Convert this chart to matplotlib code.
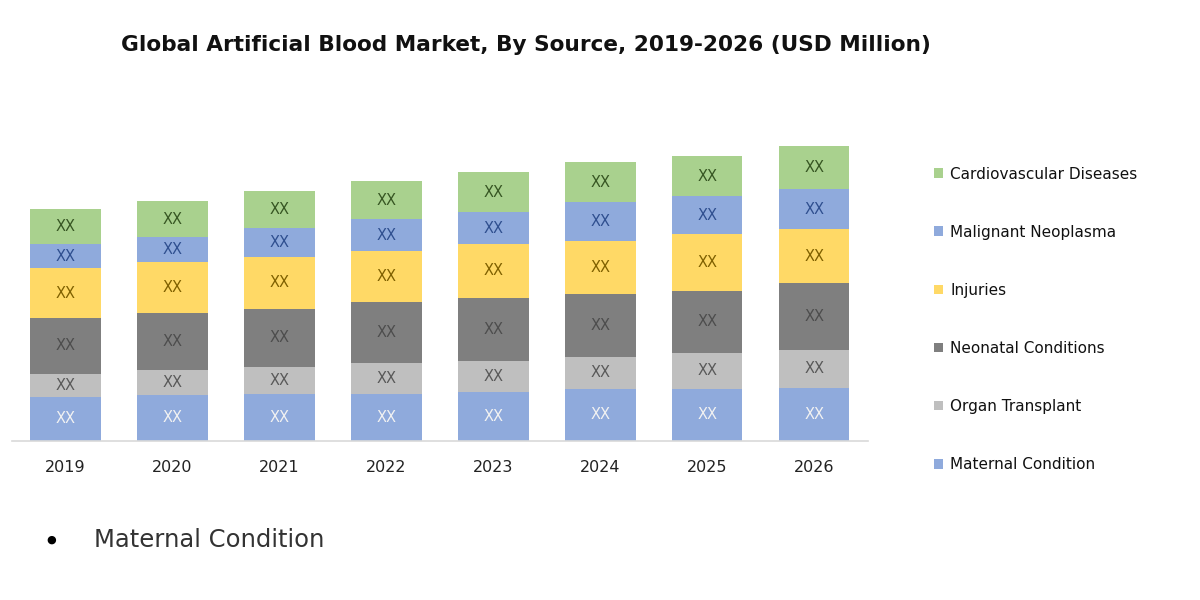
import matplotlib
matplotlib.use("Agg")
import matplotlib.pyplot as plt
import numpy as np

# Data (arbitrary units since labels are "XX")
years = ["2019", "2020", "2021", "2022", "2023", "2024", "2025", "2026"]
maternal = [44, 46, 47, 47, 49, 52, 52, 53]
organ = [23, 25, 27, 31, 31, 32, 36, 38]
neonatal = [56, 57, 58, 61, 63, 63, 62, 66]
injuries = [49, 50, 51, 50, 53, 52, 56, 54]
malignant = [24, 25, 29, 32, 32, 39, 38, 40]
cardio = [35, 36, 37, 38, 40, 40, 40, 43]

series_names = ["Maternal Condition", "Organ Transplant", "Neonatal Conditions",
                "Injuries", "Malignant Neoplasma", "Cardiovascular Diseases"]
series_vals = [maternal, organ, neonatal, injuries, malignant, cardio]
fill_cols = ["#8FAADC", "#BFBFBF", "#7F7F7F", "#FFD966", "#8FAADC", "#A9D18E"]
text_cols = ["#F2F2F2", "#595959", "#4D4D4D", "#7F6000", "#2F4F8F", "#375623"]

fig = plt.figure(figsize=(12, 6), dpi=100)
ax = fig.add_axes([0.01, 0.265, 0.713, 0.52])

x = np.arange(len(years))
bottom = np.zeros(len(years))
handles = []
for name, vals, fc, tc in zip(series_names, series_vals, fill_cols, text_cols):
    bars = ax.bar(x, vals, width=0.66, bottom=bottom, color=fc, label=name)
    ax.bar_label(bars, labels=["XX"] * len(years), label_type="center",
                 color=tc, fontsize=10.5)
    bottom += np.array(vals)
    handles.append(bars)

ax.set_xlim(-0.5, len(years) - 0.5)
ax.set_ylim(0, 311)
ax.set_xticks(x)
ax.set_xticklabels(years, fontsize=11.5, color="#222222")
ax.tick_params(axis="x", length=0, pad=14)
ax.set_yticks([])
for s in ["top", "right", "left"]:
    ax.spines[s].set_visible(False)
ax.spines["bottom"].set_color("#D9D9D9")
ax.spines["bottom"].set_linewidth(1.2)

leg = fig.legend(handles[::-1], series_names[::-1], loc="upper left",
                 bbox_to_anchor=(0.772, 0.735), frameon=False, fontsize=11,
                 handlelength=0.6, handleheight=0.6, handletextpad=0.45,
                 labelspacing=2.82, borderpad=0)
for t in leg.get_texts():
    t.set_color("#111111")

fig.text(0.438, 0.925, "Global Artificial Blood Market, By Source, 2019-2026 (USD Million)",
         ha="center", va="center", fontsize=15.6, fontweight="bold", color="#111111")

fig.text(0.043, 0.1, "\u25CF", ha="center", va="center", fontsize=8, color="black")
fig.text(0.078, 0.1, "Maternal Condition", ha="left", va="center",
         fontsize=17.5, color="#333333")

fig.savefig("out.png", dpi=100)
